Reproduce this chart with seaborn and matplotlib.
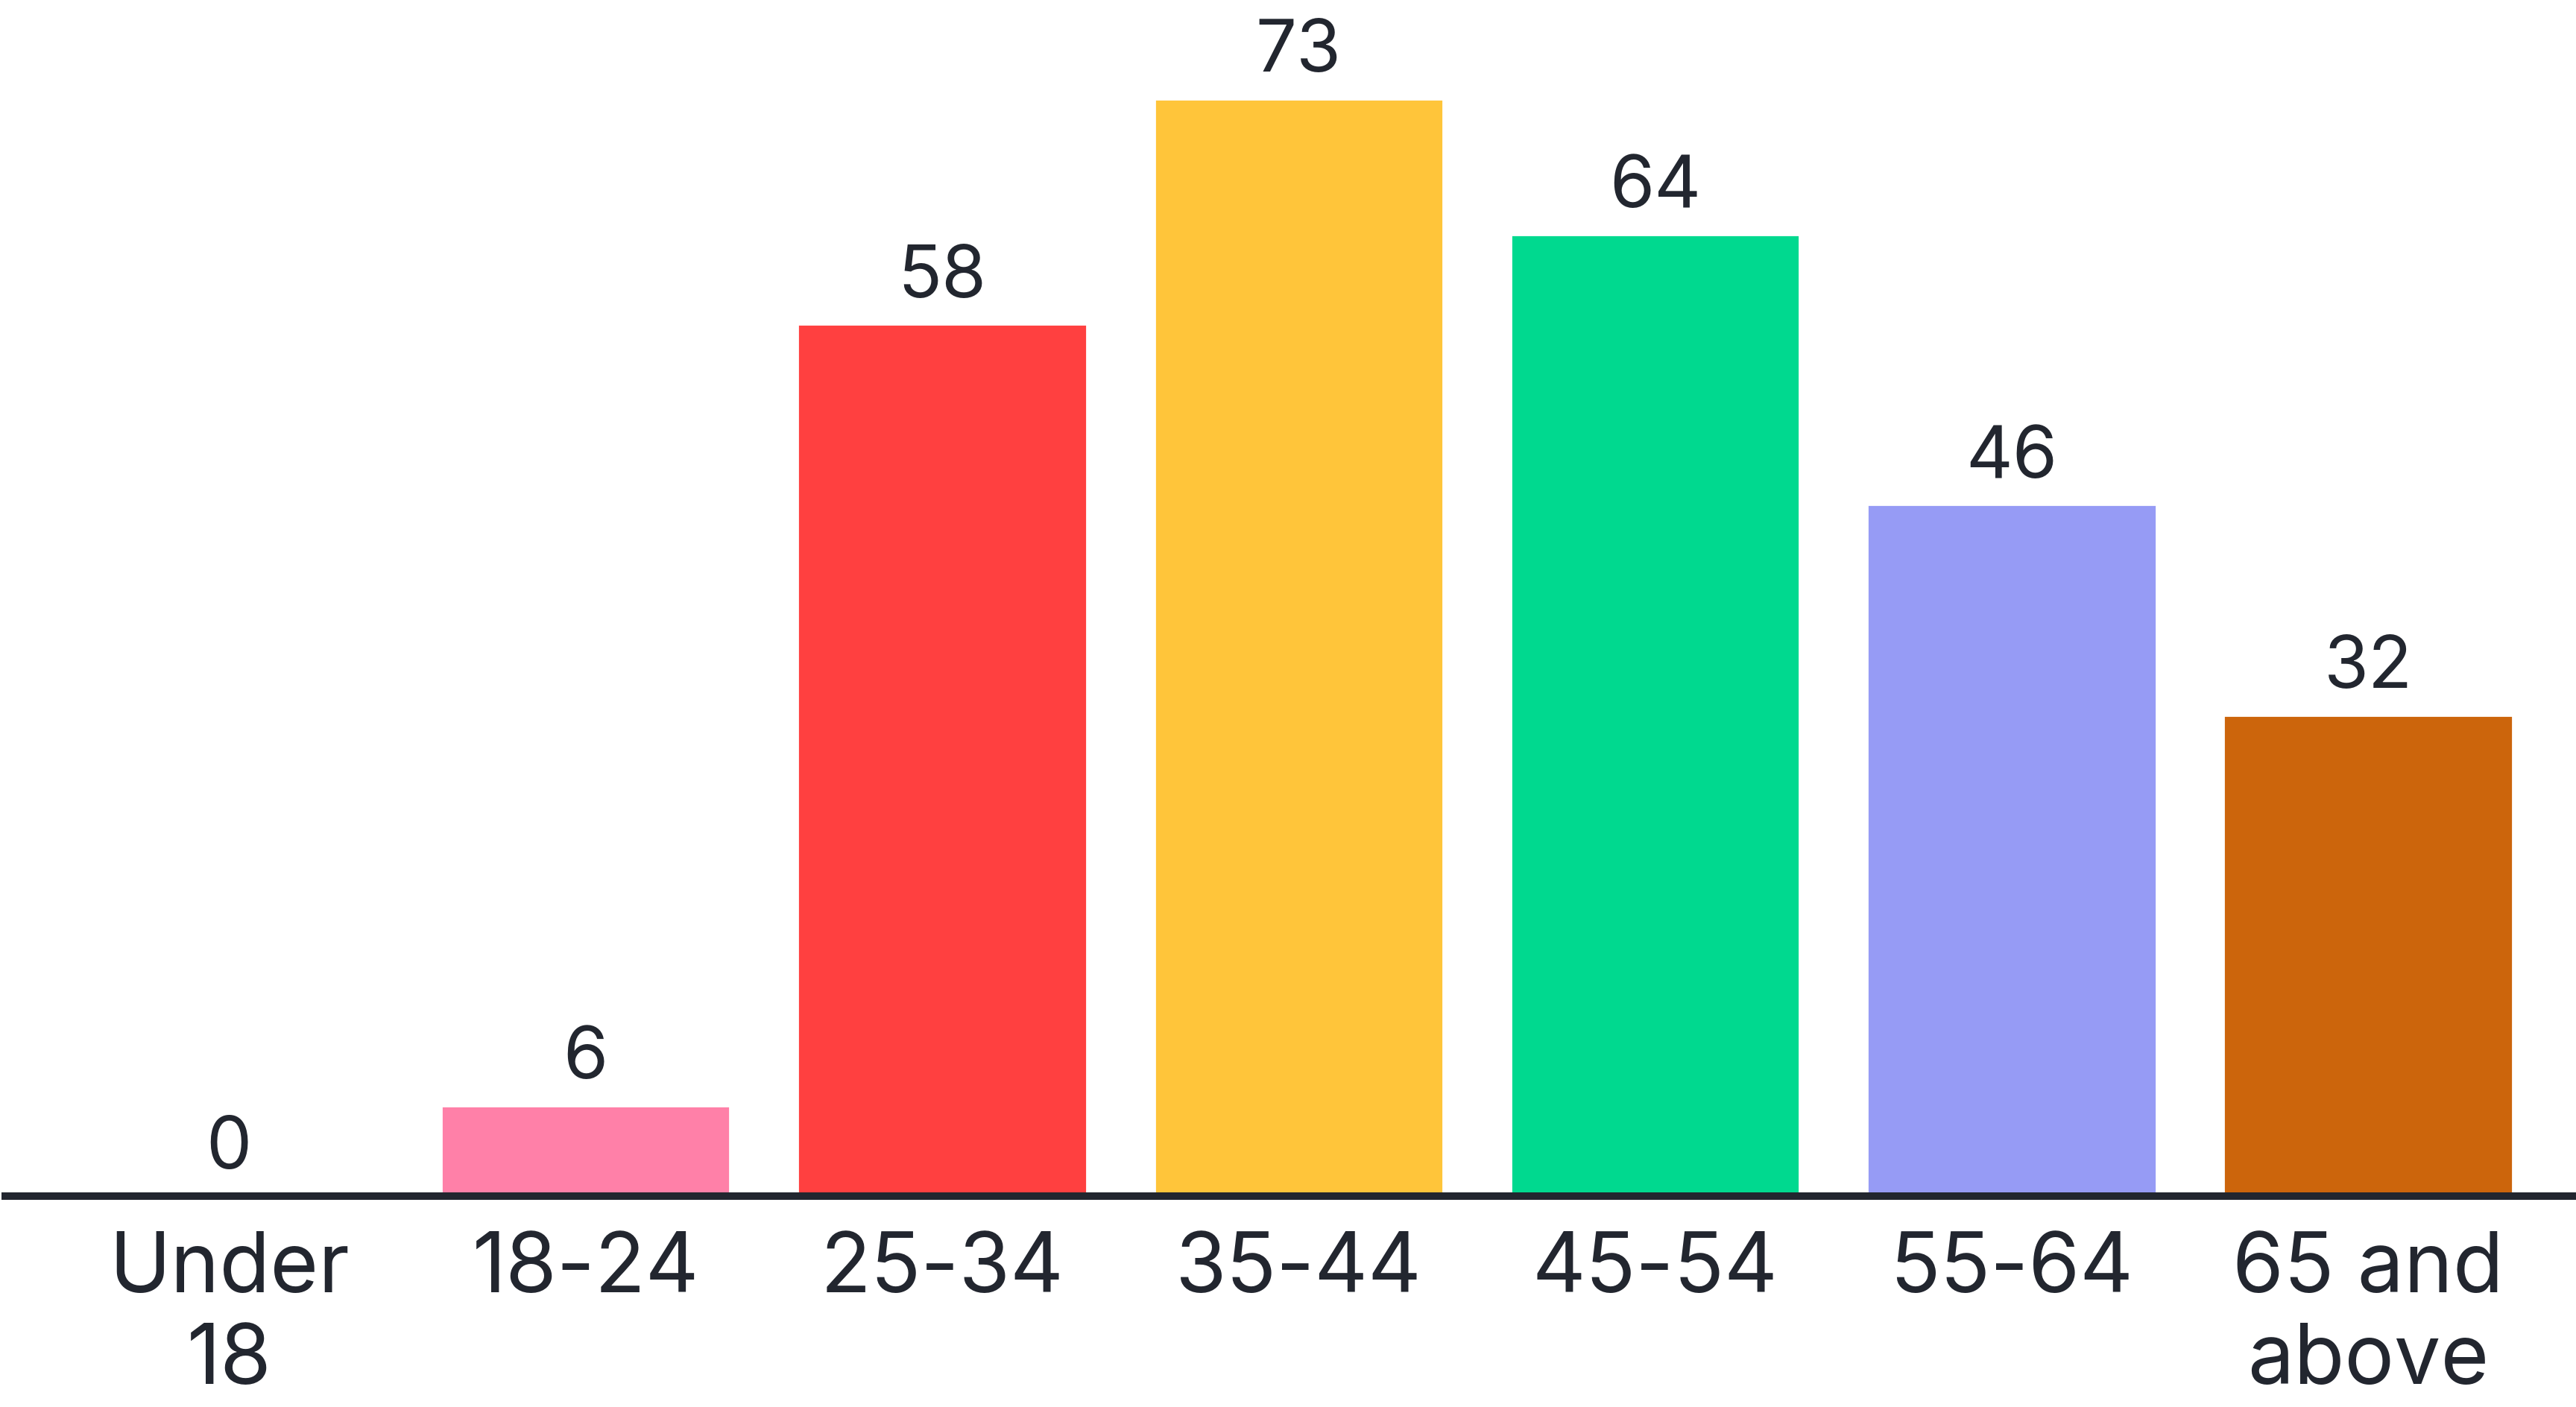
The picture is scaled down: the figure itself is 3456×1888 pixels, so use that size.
import matplotlib
matplotlib.use("Agg")
from matplotlib import pyplot as plt
import seaborn as sns
import pandas as pd

# chart data
age_groups = ["Under\n18", "18-24", "25-34", "35-44", "45-54", "55-64", "65 and\nabove"]
counts = [0, 6, 58, 73, 64, 46, 32]
bar_colors = ["#FF80A8", "#FF80A8", "#FF4040", "#FFC53A", "#00D98F", "#969BF5", "#CC650C"]

text_color = "#22262F"

sns.set_theme(style="white")
plt.rcParams["font.family"] = ["Inter", "DejaVu Sans"]

df = pd.DataFrame({"age": age_groups, "count": counts})

fig = plt.figure(figsize=(17.28, 9.44), dpi=200)
ax = fig.add_axes([0.002, 0.150, 0.998, 0.850])

sns.barplot(data=df, x="age", y="count", hue="age", palette=bar_colors,
            legend=False, width=0.81, saturation=1, ax=ax)

# value labels above each bar
for cont in ax.containers:
    ax.bar_label(cont, padding=6, fontsize=35, color=text_color)

ax.set_xlim(-0.628, 6.583)
ax.set_ylim(0, 79.6)
ax.set_xlabel("")
ax.set_ylabel("")
ax.set_yticks([])
ax.tick_params(axis="x", length=0, pad=17, labelsize=40, labelcolor=text_color)
for lbl in ax.get_xticklabels():
    lbl.set_linespacing(1.22)

sns.despine(ax=ax, left=True, top=True, right=True)
ax.spines["bottom"].set_color(text_color)
ax.spines["bottom"].set_linewidth(3.6)

fig.savefig("out.png", dpi=200)
